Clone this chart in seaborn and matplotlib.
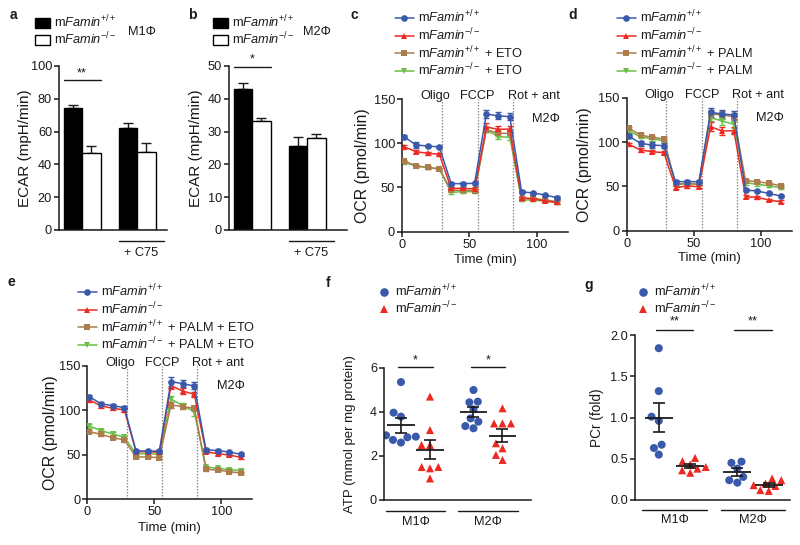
import numpy as np
import pandas as pd
import matplotlib
matplotlib.use("Agg")
import matplotlib.pyplot as plt
import matplotlib.transforms as mtransforms
from matplotlib.lines import Line2D
from matplotlib.patches import Patch
import seaborn as sns

sns.set_style("ticks")
plt.rcParams["font.family"] = ["Liberation Sans", "DejaVu Sans"]
plt.rcParams["mathtext.fontset"] = "custom"
plt.rcParams["mathtext.rm"] = "Liberation Sans"
plt.rcParams["mathtext.it"] = "Liberation Sans:italic"
plt.rcParams["mathtext.bf"] = "Liberation Sans:bold"

# ---------------- data ----------------
genotypes = ["WT", "KO"]
lab_wt = r"m$\it{Famin}^{+/+}$"
lab_ko = r"m$\it{Famin}^{-/-}$"

ecar_groups = ["Vehicle", "+ C75"]
# order: WT vehicle, KO vehicle, WT C75, KO C75
ecar_m1 = [74.5, 47.2, 62.0, 47.3]
ecar_m1_err = [2.0, 4.0, 3.2, 6.0]
ecar_m2 = [43.0, 33.2, 25.5, 28.2]
ecar_m2_err = [1.9, 0.9, 3.0, 1.2]

time_min = [1.6, 10.3, 19.0, 27.7, 36.4, 45.1, 53.8, 62.5, 71.2, 79.9, 88.6, 97.3, 106.0, 114.7]
injections = [29.5, 56.0, 82.0]
injection_labels = ["Oligo", "FCCP", "Rot + ant"]

c_wt = [107.4, 98.0, 96.9, 95.8, 54.3, 54.3, 54.7, 133.0, 131.0, 130.0, 45.2, 43.7, 41.5, 38.5]
c_ko = [96.0, 90.5, 88.6, 87.5, 49.0, 49.0, 48.3, 118.4, 115.7, 116.0, 38.5, 37.0, 34.7, 33.2]
c_wt_eto = [80.0, 74.3, 72.8, 70.9, 47.0, 46.7, 46.4, 115.4, 111.2, 111.2, 37.0, 37.7, 35.8, 34.0]
c_ko_eto = [78.4, 74.3, 72.4, 70.9, 44.5, 45.2, 45.2, 115.4, 107.4, 106.7, 35.8, 35.8, 34.7, 33.2]
c_err_wt = [1.5, 3.0, 1.5, 1.5, 1.5, 1.5, 1.5, 5.0, 4.0, 4.0, 1.5, 1.5, 1.5, 1.5]
c_err_ko = [2.0, 2.0, 1.5, 1.5, 2.0, 2.0, 2.0, 5.0, 4.0, 4.0, 2.0, 1.5, 1.5, 1.5]
c_err_wt_eto = [1.5, 1.5, 1.5, 1.5, 1.5, 1.5, 1.5, 3.0, 3.0, 3.0, 1.5, 1.5, 1.5, 1.5]
c_err_ko_eto = [1.5, 1.5, 1.5, 1.5, 1.5, 1.5, 1.5, 3.0, 3.0, 3.0, 1.5, 1.5, 1.5, 1.5]

d_wt = [106.8, 98.5, 96.6, 95.9, 55.3, 55.3, 55.3, 133.5, 131.6, 130.5, 45.9, 44.7, 42.1, 39.1]
d_ko = [97.4, 91.0, 89.1, 88.0, 48.5, 50.4, 49.6, 117.3, 112.4, 112.8, 38.4, 37.6, 34.6, 32.7]
d_wt_palm = [115.4, 107.9, 105.3, 103.4, 52.6, 53.0, 52.6, 131.6, 130.5, 128.6, 56.4, 55.3, 53.4, 50.8]
d_ko_palm = [112.4, 106.0, 103.4, 101.5, 52.6, 52.6, 52.6, 127.5, 123.7, 120.0, 54.1, 52.3, 50.8, 48.5]
d_err_wt = [2.0, 3.0, 3.0, 3.0, 1.5, 1.5, 1.5, 5.0, 5.0, 5.0, 1.5, 1.5, 1.5, 1.5]
d_err_ko = [2.0, 2.0, 2.0, 2.0, 2.0, 2.0, 2.0, 5.0, 4.0, 4.0, 2.0, 1.5, 1.5, 1.5]
d_err_wt_palm = [2.0, 2.0, 2.0, 2.0, 1.5, 1.5, 1.5, 4.0, 4.0, 4.0, 2.0, 2.0, 2.0, 2.0]
d_err_ko_palm = [2.0, 2.0, 2.0, 2.0, 1.5, 1.5, 1.5, 4.0, 4.0, 4.0, 2.0, 2.0, 2.0, 2.0]

e_wt = [115.4, 107.2, 105.3, 103.0, 54.1, 54.1, 53.8, 132.4, 130.1, 127.5, 55.6, 54.5, 53.0, 50.4]
e_ko = [111.7, 105.0, 102.3, 100.4, 53.4, 53.4, 52.6, 127.8, 121.8, 118.0, 53.4, 51.1, 49.6, 47.0]
e_wt_pe = [76.0, 72.9, 69.2, 66.6, 47.4, 47.4, 46.6, 106.0, 104.2, 102.3, 33.5, 32.7, 30.8, 29.3]
e_ko_pe = [82.3, 77.1, 73.3, 69.6, 51.1, 51.1, 50.4, 112.8, 105.3, 98.5, 36.1, 34.6, 33.1, 32.0]
e_err_wt = [2.0, 2.0, 2.0, 2.0, 1.5, 1.5, 1.5, 5.0, 4.0, 4.0, 1.5, 1.5, 1.5, 1.5]
e_err_ko = [2.0, 2.0, 2.0, 2.0, 1.5, 1.5, 1.5, 4.0, 3.0, 3.0, 1.5, 1.5, 1.5, 1.5]
e_err_wt_pe = [2.0, 2.0, 2.0, 2.0, 1.5, 1.5, 1.5, 3.0, 3.0, 3.0, 1.5, 1.5, 1.5, 1.5]
e_err_ko_pe = [2.0, 2.0, 2.0, 2.0, 1.5, 1.5, 1.5, 3.0, 3.0, 5.0, 1.5, 1.5, 1.5, 1.5]

cells = ["M1Φ", "M2Φ"]
atp_m1_wt = [5.36, 3.97, 3.79, 2.94, 2.85, 2.61, 2.73, 2.88]
atp_m1_ko = [4.70, 3.18, 2.50, 2.50, 1.50, 1.44, 1.50, 0.98]
atp_m2_wt = [5.00, 4.44, 4.47, 4.12, 3.56, 3.71, 3.26, 3.36]
atp_m2_ko = [4.17, 3.48, 3.48, 3.48, 2.58, 2.35, 2.05, 1.82]

pcr_m1_wt = [1.84, 1.32, 1.01, 0.96, 0.67, 0.63, 0.55]
pcr_m1_ko = [0.51, 0.47, 0.43, 0.40, 0.38, 0.36, 0.33]
pcr_m2_wt = [0.45, 0.465, 0.38, 0.28, 0.24, 0.21]
pcr_m2_ko = [0.26, 0.24, 0.20, 0.18, 0.17, 0.12, 0.11]

# ---------------- style ----------------
FS = 9.2
INK = "#1a1a1a"
BLUE = "#3a59ab"
RED = "#ec2a22"
BROWN = "#ac7c4a"
GREEN = "#69bf45"

W, H = 800, 545
fig = plt.figure(figsize=(8, 5.45), dpi=100)


def add_ax(x0, y0, x1, y1):
    return fig.add_axes([x0 / W, 1 - y1 / H, (x1 - x0) / W, (y1 - y0) / H])


def style(ax):
    sns.despine(ax=ax)
    for s in ["left", "bottom"]:
        ax.spines[s].set_linewidth(1.1)
        ax.spines[s].set_color(INK)
    ax.tick_params(length=3.5, width=1.1, color=INK, labelsize=FS, pad=1.5,
                   labelcolor=INK)


def ylabel(ax, text, x_px, x0, x1, size):
    ax.set_ylabel(text, fontsize=size, va="center", color=INK)
    ax.yaxis.set_label_coords((x_px - x0) / (x1 - x0), 0.5)


def xlabel(ax, text, y_px, y0, y1):
    ax.set_xlabel(text, fontsize=FS + 0.3, va="center", color=INK)
    ax.xaxis.set_label_coords(0.5, (y1 - y_px) / (y1 - y0))


def legend(ax, handles, labels, x_px, y_px, **kw):
    opts = dict(loc="upper left", bbox_to_anchor=(x_px / W, 1 - y_px / H),
                bbox_transform=fig.transFigure, frameon=False, fontsize=FS,
                borderpad=0, borderaxespad=0, labelcolor=INK)
    opts.update(kw)
    ax.legend(handles, labels, **opts)


def letter(x, y, s):
    fig.text(x / W, 1 - y / H, s, fontsize=10, weight="bold", ha="center",
             va="center", color=INK)


# ---------------- ECAR bar panels ----------------
def bar_panel(box, vals, errs, ymax, ystep, stars, sig_y, star_y, cell, cell_xy,
              leg_xy, lab_x):
    x0, y0, x1, y1 = box
    ax = add_ax(*box)
    df = pd.DataFrame({
        "treatment": [g for g in ecar_groups for _ in genotypes],
        "genotype": genotypes * 2,
        "ECAR": vals,
        "err": errs,
    })
    sns.barplot(data=df, x="treatment", y="ECAR", hue="genotype",
                order=ecar_groups, hue_order=genotypes,
                palette={"WT": "black", "KO": "white"}, edgecolor="black",
                linewidth=1.0, width=0.67, errorbar=None, legend=False,
                ax=ax, zorder=2)
    for geno, cont in zip(genotypes, ax.containers):
        for treat, bar in zip(ecar_groups, cont):
            row = df[(df.treatment == treat) & (df.genotype == geno)].iloc[0]
            xc = bar.get_x() + bar.get_width() / 2
            ax.errorbar(xc, row.ECAR, yerr=[[0], [row.err]], fmt="none",
                        ecolor=INK, elinewidth=1.0, capsize=3.5, capthick=1.0,
                        zorder=1)
    ax.set_ylim(0, ymax)
    ax.set_yticks(np.arange(0, ymax + 1, ystep))
    ax.set_xlim(-0.42, (x1 - x0) / 55 - 0.42)
    ax.set_xticks([])
    ax.set_xlabel("")
    style(ax)
    ylabel(ax, "ECAR (mpH/min)", lab_x, x0, x1, 11.0)
    b0 = ax.containers[0][0]
    b1 = ax.containers[1][0]
    left = b0.get_x()
    right = b1.get_x() + b1.get_width()
    ax.plot([left, right], [sig_y, sig_y], color=INK, lw=1.0, clip_on=False)
    ax.text((left + right) / 2, star_y, stars, ha="center", va="center",
            fontsize=FS, color=INK)
    tr = mtransforms.blended_transform_factory(ax.transData, ax.transAxes)
    g_left = ax.containers[0][1].get_x()
    ax.plot([g_left, g_left + 0.815], [-0.067, -0.067], color=INK, lw=1.0,
            transform=tr, clip_on=False)
    ax.text(g_left + 0.4, -0.14, "+ C75", ha="center", va="center",
            fontsize=FS, transform=tr, color=INK)
    handles = [Patch(facecolor="black", edgecolor="black", lw=1.0),
               Patch(facecolor="white", edgecolor="black", lw=1.0)]
    legend(ax, handles, [lab_wt, lab_ko], leg_xy[0], leg_xy[1],
           handlelength=1.2, handleheight=0.85, handletextpad=0.3,
           labelspacing=0.0)
    fig.text(cell_xy[0] / W, 1 - cell_xy[1] / H, cell, fontsize=FS,
             ha="left", va="center", color=INK)
    return ax


bar_panel((59, 66, 167, 230), ecar_m1, ecar_m1_err, 100, 20, "**", 91.5, 95.5,
          "M1Φ", (128, 32), (35, 14), 25)
bar_panel((229, 66, 347, 230), ecar_m2, ecar_m2_err, 50, 10, "*", 49.7, 52.0,
          "M2Φ", (303, 32), (213, 14), 196)

# ---------------- OCR line panels ----------------
def ocr_panel(box, series, leg_xy, lab_x, time_y):
    x0, y0, x1, y1 = box
    ax = add_ax(*box)
    rows = []
    for name, vals, errs, col, mk in series:
        for t, v, e in zip(time_min, vals, errs):
            rows.append({"time": t, "OCR": v, "err": e, "series": name})
    df = pd.DataFrame(rows)
    order = [s[0] for s in series][::-1]  # draw last-listed first
    pal = {s[0]: s[3] for s in series}
    mks = {s[0]: s[4] for s in series}
    for t in injections:
        ax.axvline(t, color="#8c8c8c", lw=0.9, ls=(0, (1.2, 1.2)), zorder=0)
    for name in order:
        sub = df[df.series == name]
        ax.errorbar(sub.time, sub.OCR, yerr=sub.err, fmt="none",
                    ecolor=pal[name], elinewidth=1.0, capsize=2.5,
                    capthick=1.0, zorder=2)
    sns.lineplot(data=df, x="time", y="OCR", hue="series", style="series",
                 hue_order=order, style_order=order, palette=pal,
                 markers=mks, dashes=False, markersize=4.8,
                 markeredgewidth=0, lw=1.1, legend=False, ax=ax, zorder=3)
    ax.set_ylim(0, 150)
    ax.set_yticks([0, 50, 100, 150])
    ax.set_xlim(0, 123)
    ax.set_xticks([0, 50, 100])
    style(ax)
    ylabel(ax, "OCR (pmol/min)", lab_x, x0, x1, 11.4)
    xlabel(ax, "Time (min)", time_y, y0, y1)
    for t, s in zip([24.5, 56.0, 97.7], injection_labels):
        ax.text(t, 153, s, ha="center", va="center", fontsize=FS,
                clip_on=False, color=INK)
    ax.text(107, 127, "M2Φ", ha="center", va="center", fontsize=FS,
            color=INK)
    handles = [Line2D([0], [0], color=s[3], marker=s[4], markersize=4.8,
                      markeredgewidth=0, lw=1.1) for s in series]
    legend(ax, handles, [s[0] for s in series], leg_xy[0], leg_xy[1],
           handlelength=1.45, handletextpad=0.35, labelspacing=0.08)
    return ax


ocr_panel((402, 99, 568, 231.7), [
    (lab_wt, c_wt, c_err_wt, BLUE, "o"),
    (lab_ko, c_ko, c_err_ko, RED, "^"),
    (lab_wt + " + ETO", c_wt_eto, c_err_wt_eto, BROWN, "s"),
    (lab_ko + " + ETO", c_ko_eto, c_err_ko_eto, GREEN, "v"),
], (395, 9), 363, 260)

ocr_panel((626.7, 97.7, 791.7, 230.7), [
    (lab_wt, d_wt, d_err_wt, BLUE, "o"),
    (lab_ko, d_ko, d_err_ko, RED, "^"),
    (lab_wt + " + PALM", d_wt_palm, d_err_wt_palm, BROWN, "s"),
    (lab_ko + " + PALM", d_ko_palm, d_err_ko_palm, GREEN, "v"),
], (617, 9), 585, 258)

ocr_panel((87.3, 366, 252, 499), [
    (lab_wt, e_wt, e_err_wt, BLUE, "o"),
    (lab_ko, e_ko, e_err_ko, RED, "^"),
    (lab_wt + " + PALM + ETO", e_wt_pe, e_err_wt_pe, BROWN, "s"),
    (lab_ko + " + PALM + ETO", e_ko_pe, e_err_ko_pe, GREEN, "v"),
], (78, 283), 50, 528)

# ---------------- dot panels ----------------
def dot_panel(box, data, yticks, ylab, lab_x, lab_size, fmt, sig_y, star_y,
              stars, sig_hw, mean_hw, leg_xy, xlim, line_y, text_y):
    x0, y0, x1, y1 = box
    ax = add_ax(*box)
    rows = []
    for cell in cells:
        for geno in genotypes:
            for v in data[(cell, geno)]:
                rows.append({"cell": cell, "genotype": geno, "value": v})
    df = pd.DataFrame(rows)
    pal = {"WT": BLUE, "KO": RED}
    for geno, mk in zip(genotypes, ["o", "^"]):
        sns.swarmplot(data=df[df.genotype == geno], x="cell", y="value",
                      hue="genotype", order=cells, hue_order=genotypes,
                      palette=pal, dodge=True, marker=mk, size=5.8,
                      linewidth=0, legend=False, ax=ax, zorder=2)
    stats = df.groupby(["cell", "genotype"])["value"].agg(["mean", "sem"])
    for (cell, geno), r in stats.iterrows():
        xc = cells.index(cell) + (-0.2 if geno == "WT" else 0.2)
        ax.hlines(r["mean"], xc - mean_hw, xc + mean_hw, color=INK, lw=1.3,
                  zorder=4)
        ax.errorbar(xc, r["mean"], yerr=r["sem"], fmt="none", ecolor=INK,
                    elinewidth=1.2, capsize=4.6, capthick=1.2, zorder=4)
    ax.set_ylim(yticks[0], yticks[-1])
    ax.set_yticks(yticks)
    ax.yaxis.set_major_formatter(matplotlib.ticker.FormatStrFormatter(fmt))
    ax.set_xlim(*xlim)
    ax.set_xticks([])
    ax.set_xlabel("")
    style(ax)
    ylabel(ax, ylab, lab_x, x0, x1, lab_size)
    tr = mtransforms.blended_transform_factory(ax.transData, ax.transAxes)
    for i, cell in enumerate(cells):
        ax.plot([i - sig_hw, i + sig_hw], [sig_y, sig_y], color=INK, lw=1.0,
                clip_on=False)
        ax.text(i, star_y, stars, ha="center", va="center", fontsize=FS,
                color=INK)
        ax.plot([i - 0.41, i + 0.41], [line_y, line_y], color=INK, lw=1.0,
                transform=tr, clip_on=False)
        ax.text(i, text_y, cell, ha="center", va="center", fontsize=FS,
                transform=tr, color=INK)
    handles = [Line2D([0], [0], color=BLUE, marker="o", lw=0, markersize=6.2,
                      markeredgewidth=0),
               Line2D([0], [0], color=RED, marker="^", lw=0, markersize=6.2,
                      markeredgewidth=0)]
    legend(ax, handles, [lab_wt, lab_ko], leg_xy[0], leg_xy[1],
           handlelength=0.6, handletextpad=0.55, labelspacing=0.0)
    return ax


dot_panel((384, 368, 531, 500),
          {("M1Φ", "WT"): atp_m1_wt, ("M1Φ", "KO"): atp_m1_ko,
           ("M2Φ", "WT"): atp_m2_wt, ("M2Φ", "KO"): atp_m2_ko},
          [0, 2, 4, 6], "ATP (mmol per mg protein)", 350, 9.5, "%d",
          6.05, 6.35, "*", 0.24, 0.19, (380, 283), (-0.434, 1.593),
          -0.083, -0.167)

dot_panel((635, 335, 790, 500),
          {("M1Φ", "WT"): pcr_m1_wt, ("M1Φ", "KO"): pcr_m1_ko,
           ("M2Φ", "WT"): pcr_m2_wt, ("M2Φ", "KO"): pcr_m2_ko},
          [0.0, 0.5, 1.0, 1.5, 2.0], "PCr (fold)", 597, 9.8, "%.1f",
          2.06, 2.16, "**", 0.236, 0.18, (639, 283), (-0.503, 1.471),
          -0.06, -0.12)

for s, x, y in [("a", 13, 15), ("b", 192, 15), ("c", 354, 15), ("d", 573, 15),
                ("e", 11, 282), ("f", 328, 283), ("g", 589, 285)]:
    letter(x, y, s)

fig.savefig("out.png", dpi=100)
